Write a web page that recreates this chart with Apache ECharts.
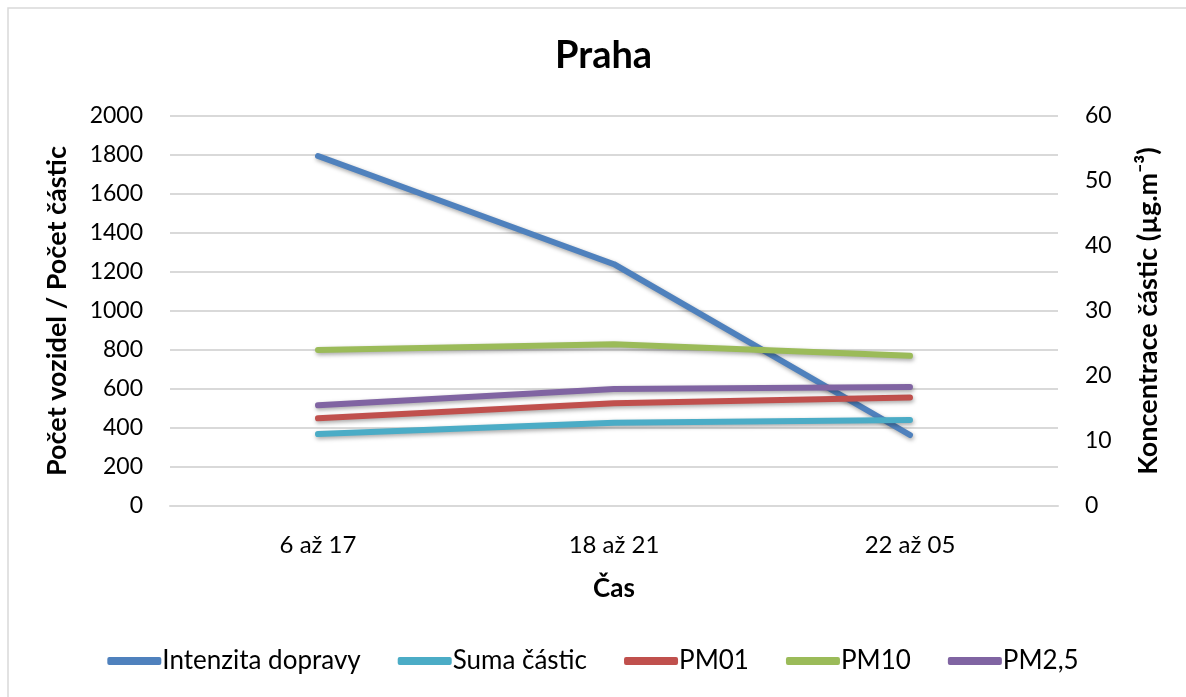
<!doctype html>
<html>
    <head>
        <meta charset="utf-8">
        <style>
            html, body { margin: 0; padding: 0; background: #fff; }
            #main { width: 1186px; height: 697px; }
        </style>
    </head>
    <body>
        <div id="main"></div>
        <script src="https://cdn.jsdelivr.net/npm/echarts@6/dist/echarts.min.js"></script>
        <script>
            var chart = echarts.init(document.getElementById('main'));

            var categories = ['6 až 17', '18 až 21', '22 až 05'];
            var intenzita = [1795, 1240, 364];
            var suma = [369, 427, 441];
            var pm01 = [13.5, 15.8, 16.7];
            var pm10 = [24.0, 24.9, 23.1];
            var pm25 = [15.5, 18.0, 18.3];

            var font = 'Lato';

            function line(name, data, color, axis) {
                return {
                    name: name,
                    type: 'line',
                    data: data,
                    yAxisIndex: axis,
                    symbol: 'none',
                    lineStyle: {
                        width: 6,
                        color: color,
                        cap: 'round',
                        join: 'round',
                        shadowColor: 'rgba(0,0,0,0.35)',
                        shadowBlur: 4,
                        shadowOffsetX: 1,
                        shadowOffsetY: 2
                    },
                    itemStyle: { color: color },
                    silent: true
                };
            }

            chart.setOption({
                animation: false,
                textStyle: { fontFamily: font },
                graphic: [{
                    type: 'rect',
                    shape: { x: 8, y: 8, width: 1190, height: 700 },
                    style: { fill: 'none', stroke: '#d9d9d9', lineWidth: 1.5 }
                }],
                title: {
                    text: 'Praha',
                    left: 550,
                    top: 32,
                    textStyle: { fontFamily: font, fontSize: 38, fontWeight: 'bold', color: '#000' }
                },
                legend: {
                    bottom: 18,
                    left: 'center',
                    itemWidth: 54,
                    itemHeight: 8,
                    itemGap: 37,
                    icon: 'roundRect',
                    textStyle: { fontFamily: font, fontSize: 26, color: '#000', padding: [0, 0, 0, -4] },
                    data: ['Intenzita dopravy', 'Suma částic', 'PM01', 'PM10', 'PM2,5']
                },
                grid: {
                    left: 170,
                    right: 128,
                    top: 116,
                    bottom: 191
                },
                xAxis: {
                    type: 'category',
                    data: categories,
                    boundaryGap: true,
                    name: 'Čas',
                    nameLocation: 'middle',
                    nameGap: 70,
                    nameTextStyle: { fontFamily: font, fontSize: 26, fontWeight: 'bold', color: '#000' },
                    axisLine: { lineStyle: { color: '#d9d9d9', width: 2 } },
                    axisTick: { show: false },
                    axisLabel: { fontFamily: font, fontSize: 24, color: '#000', margin: 27 }
                },
                yAxis: [{
                    type: 'value',
                    min: 0,
                    max: 2000,
                    interval: 200,
                    name: 'Počet vozidel / Počet částic',
                    nameLocation: 'middle',
                    nameRotate: 90,
                    nameGap: 99,
                    nameTextStyle: { fontFamily: font, fontSize: 27, fontWeight: 'bold', color: '#000' },
                    axisLine: { show: false },
                    axisTick: { show: false },
                    axisLabel: {
                        fontFamily: font, fontSize: 23, color: '#000', margin: 27,
                        formatter: function (v) { return String(v); }
                    },
                    splitLine: { lineStyle: { color: '#d9d9d9', width: 2 } }
                }, {
                    type: 'value',
                    min: 0,
                    max: 60,
                    interval: 10,
                    name: 'Koncentrace částic (µg.m⁻³)',
                    nameLocation: 'middle',
                    nameRotate: 90,
                    nameGap: 77,
                    nameTextStyle: { fontFamily: font, fontSize: 27, fontWeight: 'bold', color: '#000' },
                    axisLine: { show: false },
                    axisTick: { show: false },
                    axisLabel: { fontFamily: font, fontSize: 23, color: '#000', margin: 27 },
                    splitLine: { show: false }
                }],
                series: [
                    line('Intenzita dopravy', intenzita, '#4F81BD', 0),
                    line('Suma částic', suma, '#4BACC6', 0),
                    line('PM01', pm01, '#C0504D', 1),
                    line('PM10', pm10, '#9BBB59', 1),
                    line('PM2,5', pm25, '#8064A2', 1)
                ]
            });

            window.onresize = chart.resize;
        </script>
    </body>
</html>
